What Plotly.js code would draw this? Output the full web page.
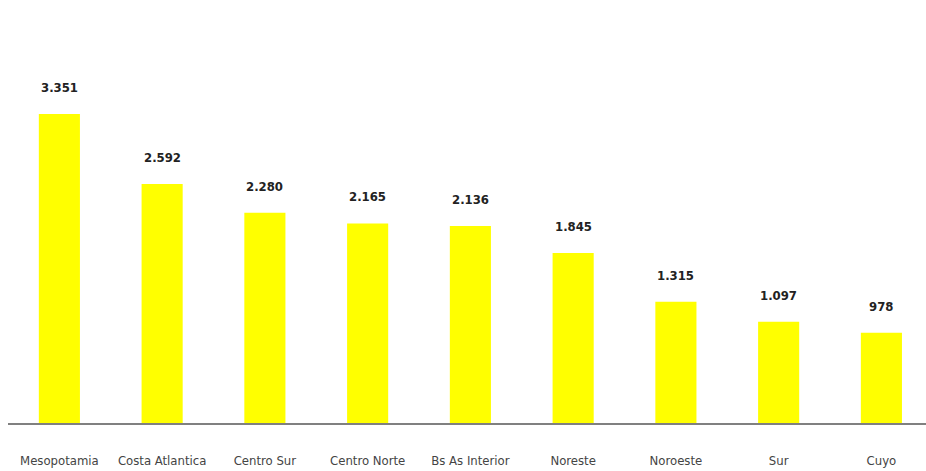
<!DOCTYPE html>
<html><head><meta charset="utf-8">
<script src="https://cdn.plot.ly/plotly-3.0.1.min.js"></script>
<style>html,body{margin:0;padding:0;background:#fff;}#c{width:926px;height:471px;}</style>
</head><body><div id="c"></div>
<script>
const categories = ["Mesopotamia","Costa Atlantica","Centro Sur","Centro Norte","Bs As Interior","Noreste","Noroeste","Sur","Cuyo"];
const values = [3351, 2592, 2280, 2165, 2136, 1845, 1315, 1097, 978];
const valueLabels = ["3.351","2.592","2.280","2.165","2.136","1.845","1.315","1.097","978"];

const FONT = '"Liberation Sans Narrow", "DejaVu Sans Condensed", "DejaVu Sans", sans-serif';

const trace = {
  type: 'bar', x: categories, y: values,
  marker: {color: '#ffff00'}, width: 0.4, hoverinfo: 'none'
};
const annotations = categories.map((c, i) => ({
  x: c, y: values[i], xref: 'x', yref: 'y', text: valueLabels[i],
  showarrow: false, yanchor: 'bottom', yshift: 17,
  font: {family: FONT, size: 13, color: '#222', weight: 'bold', stretch: 'condensed'}
}));
const layout = {
  width: 926, height: 471,
  margin: {l: 8, r: 0, t: 0, b: 48},
  paper_bgcolor: '#fff', plot_bgcolor: '#fff',
  showlegend: false,
  bargap: 0.6,
  xaxis: {
    type: 'category', range: [-0.5, 8.434], showgrid: false, zeroline: false,
    showline: true, linecolor: '#808080', linewidth: 2,
    ticks: '', ticklabelstandoff: 24, tickangle: 0,
    tickfont: {family: FONT, size: 13, color: '#444', stretch: 'condensed'}, fixedrange: true
  },
  yaxis: {range: [0, 4588], visible: false, showgrid: false, zeroline: false, fixedrange: true},
  annotations: annotations
};
Plotly.newPlot('c', [trace], layout, {staticPlot: true, displayModeBar: false});
</script></body></html>
